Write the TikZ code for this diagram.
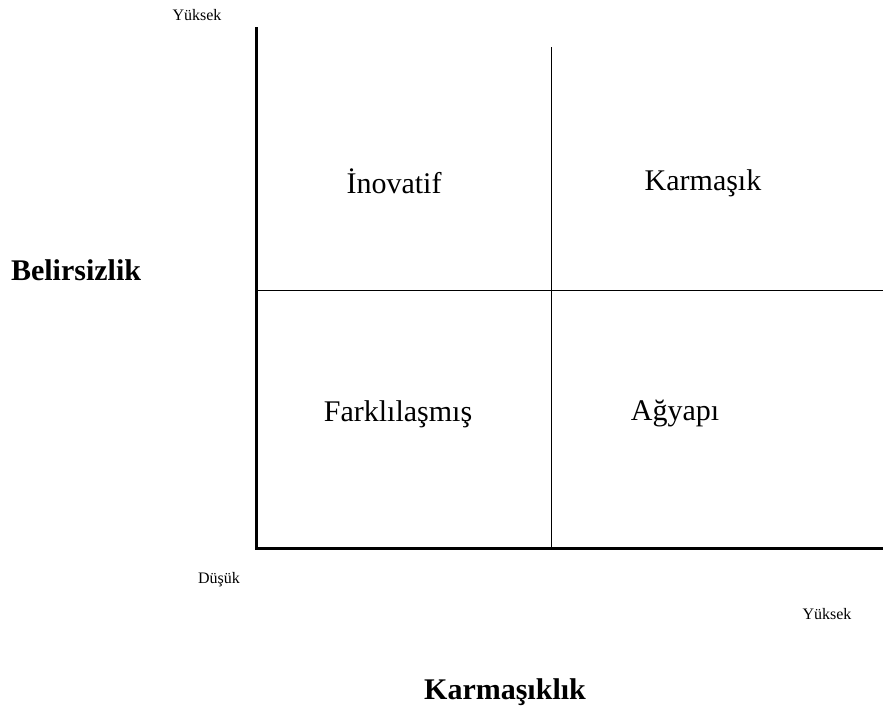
\documentclass[tikz,border=0pt]{standalone}
\usepackage{fontspec}
\setmainfont{Liberation Serif}
\usepackage{tikz}

\begin{document}
\begin{tikzpicture}[x=0.5pt, y=-0.5pt]

% Sinirlar (piksel olcegi)
\useasboundingbox (0,0) rectangle (883,713);

% Eksen noktalari
\coordinate (O) at (256,548);
\coordinate (yTop) at (256,27);
\coordinate (xEnd) at (883,548);
\coordinate (mTop) at (551,47);
\coordinate (mBot) at (551,548);
\coordinate (hL) at (256,290);
\coordinate (hR) at (883,290);

% Eksenler
\draw[line width=1.5pt] (yTop) -- (O) -- (xEnd);

% Ic cizgiler
\draw[line width=0.5pt] (mTop) -- (mBot);
\draw[line width=0.5pt] (hL) -- (hR);

% Eksen uclari
\node[font=\fontsize{8}{9}\selectfont] (yHigh) at (197,15) {Yüksek};
\node[font=\fontsize{8}{9}\selectfont] (low) at (219,580) {Düşük};
\node[font=\fontsize{8}{9}\selectfont] (xHigh) at (827,614) {Yüksek};

% Eksen basliklari
\node[font=\fontsize{15}{18}\selectfont\bfseries] (belir) at (76,270) {Belirsizlik};
\node[font=\fontsize{15}{18}\selectfont\bfseries] (karm) at (505,692) {Karmaşıklık};

% Bolgeler
\node[font=\fontsize{15}{18}\selectfont] (inov) at (394,181) {İnovatif};
\node[font=\fontsize{15}{18}\selectfont] (karmq) at (703,183) {Karmaşık};
\node[font=\fontsize{15}{18}\selectfont] (fark) at (398,414) {Farklılaşmış};
\node[font=\fontsize{15}{18}\selectfont] (agy) at (675,413) {Ağyapı};

\end{tikzpicture}
\end{document}
